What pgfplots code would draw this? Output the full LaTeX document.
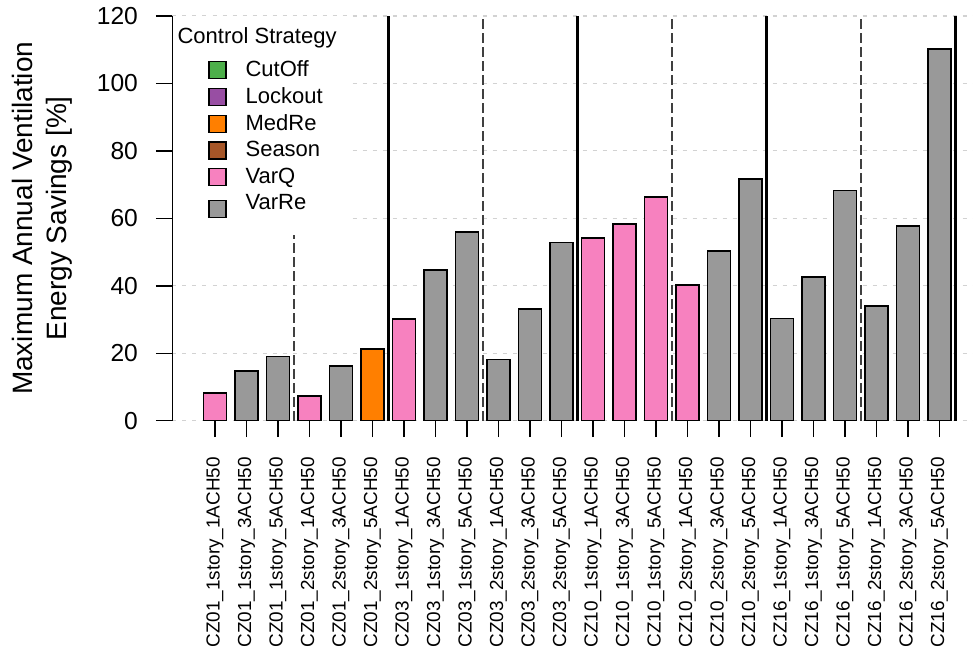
\documentclass[border=0pt]{standalone}
\usepackage{fontspec}
\setmainfont{Liberation Sans}
\setsansfont{Liberation Sans}
\usepackage{pgfplots}
\pgfplotsset{compat=1.18}
\definecolor{cPink}{HTML}{F781BF}
\definecolor{cGray}{HTML}{999999}
\definecolor{cOrange}{HTML}{FF7F00}
\definecolor{cGreen}{HTML}{4DAF4A}
\definecolor{cPurple}{HTML}{984EA3}
\definecolor{cBrown}{HTML}{A65628}
\begin{document}
\begin{tikzpicture}
\begin{axis}[
  scale only axis, width=400.05pt, height=202.35pt,
  xmin=-1.35, xmax=24.05, ymin=0, ymax=120,
  axis lines*=left,
  x axis line style={draw=none},
  y axis line style={line width=0.7pt},
  /pgf/number format/assume math mode=true,
  ytick={0,20,...,120},
  xtick={0,...,23},
  xticklabels={CZ01\_1story\_1ACH50,CZ01\_1story\_3ACH50,CZ01\_1story\_5ACH50,CZ01\_2story\_1ACH50,CZ01\_2story\_3ACH50,CZ01\_2story\_5ACH50,CZ03\_1story\_1ACH50,CZ03\_1story\_3ACH50,CZ03\_1story\_5ACH50,CZ03\_2story\_1ACH50,CZ03\_2story\_3ACH50,CZ03\_2story\_5ACH50,CZ10\_1story\_1ACH50,CZ10\_1story\_3ACH50,CZ10\_1story\_5ACH50,CZ10\_2story\_1ACH50,CZ10\_2story\_3ACH50,CZ10\_2story\_5ACH50,CZ16\_1story\_1ACH50,CZ16\_1story\_3ACH50,CZ16\_1story\_5ACH50,CZ16\_2story\_1ACH50,CZ16\_2story\_3ACH50,CZ16\_2story\_5ACH50},
  tick align=outside,
  major tick length=8.25pt,
  tick style={black, line width=0.7pt},
  xticklabel style={yshift=-6.5pt, rotate=90, anchor=east, font=\fontsize{9.45}{11}\selectfont},
  yticklabel style={xshift=-5.5pt, font=\fontsize{12.3}{14}\selectfont},
  ymajorgrids,
  grid style={gray!35, line width=0.6pt, dash pattern=on 2pt off 3pt},
  ylabel={Maximum Annual Ventilation\\Energy Savings [\%]},
  ylabel style={align=center, font=\fontsize{14}{17}\selectfont, at={([xshift=-46.45pt]axis description cs:0,0.5)}, anchor=south, rotate=0},
  legend cell align=left,
  legend image code/.code={\path (0pt,0pt); \draw[#1, line width=0.8pt] (14.25pt,-4.25pt) rectangle ++(8.5pt,8.5pt);},
  legend style={at={(axis cs:-1.35,120)}, anchor=north west, fill=white, draw=none,
    inner xsep=3.5pt, inner ysep=3.5pt, row sep=0pt, column sep=7.5pt,
    font=\fontsize{11}{13}\selectfont},
]
% legend entries
\addlegendimage{empty legend}
\addlegendentry[text depth=4.65pt]{\hspace*{-34pt}Control Strategy}
\addlegendimage{fill=cGreen, draw=black}
\addlegendentry{CutOff}
\addlegendimage{fill=cPurple, draw=black}
\addlegendentry{Lockout}
\addlegendimage{fill=cOrange, draw=black}
\addlegendentry{MedRe}
\addlegendimage{fill=cBrown, draw=black}
\addlegendentry{Season}
\addlegendimage{fill=cPink, draw=black}
\addlegendentry{VarQ}
\addlegendimage{fill=cGray, draw=black}
\addlegendentry[text depth=7.15pt]{VarRe}
% bars
\addplot[ybar, bar width=0.72, bar shift=0pt, fill=cPink, draw=black, line width=0.8pt, forget plot]
  coordinates {(0,8.3)(3,7.3)(6,30.1)(12,54.2)(13,58.4)(14,66.3)(15,40.3)};
\addplot[ybar, bar width=0.72, bar shift=0pt, fill=cGray, draw=black, line width=0.8pt, forget plot]
  coordinates {(1,14.8)(2,19.0)(4,16.3)(7,44.7)(8,56.0)(9,18.2)(10,33.1)(11,52.8)(16,50.3)(17,71.6)(18,30.3)(19,42.6)(20,68.2)(21,34.0)(22,57.8)(23,110.2)};
\addplot[ybar, bar width=0.72, bar shift=0pt, fill=cOrange, draw=black, line width=0.8pt, forget plot]
  coordinates {(5,21.3)};
% separators
\addplot[black, line width=1.3pt, forget plot] coordinates {(5.5,0)(5.5,120)};
\addplot[black, line width=1.3pt, forget plot] coordinates {(11.5,0)(11.5,120)};
\addplot[black, line width=1.3pt, forget plot] coordinates {(17.5,0)(17.5,120)};
\addplot[black, line width=1.3pt, forget plot] coordinates {(23.5,0)(23.5,120)};
\addplot[black!75, line width=0.75pt, dash pattern=on 5pt off 2pt, forget plot] coordinates {(2.5,0)(2.5,120)};
\addplot[black!75, line width=0.75pt, dash pattern=on 5pt off 2pt, forget plot] coordinates {(8.5,0)(8.5,120)};
\addplot[black!75, line width=0.75pt, dash pattern=on 5pt off 2pt, forget plot] coordinates {(14.5,0)(14.5,120)};
\addplot[black!75, line width=0.75pt, dash pattern=on 5pt off 2pt, forget plot] coordinates {(20.5,0)(20.5,120)};
\end{axis}
\pgfresetboundingbox
\path[use as bounding box] (-86.25pt,-118.65pt) rectangle (400.25pt,210.35pt);
\end{tikzpicture}
\end{document}
